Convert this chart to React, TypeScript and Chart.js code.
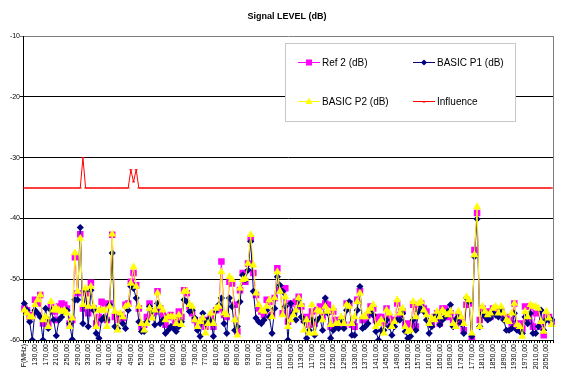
import React, { useEffect, useRef } from 'react';
import { Chart, registerables } from 'chart.js';

Chart.register(...registerables);

const TITLE = 'Signal LEVEL (dB)';
const FIRST_CATEGORY = 'F(MHz)';
const FREQ_MHZ = [
  100, 110, 120, 130, 140, 150, 160, 170, 180, 190,
  200, 210, 220, 230, 240, 250, 260, 270, 280, 290,
  300, 310, 320, 330, 340, 350, 360, 370, 380, 390,
  400, 410, 420, 430, 440, 450, 460, 470, 480, 490,
  500, 510, 520, 530, 540, 550, 560, 570, 580, 590,
  600, 610, 620, 630, 640, 650, 660, 670, 680, 690,
  700, 710, 720, 730, 740, 750, 760, 770, 780, 790,
  800, 810, 820, 830, 840, 850, 860, 870, 880, 890,
  900, 910, 920, 930, 940, 950, 960, 970, 980, 990,
  1000, 1010, 1020, 1030, 1040, 1050, 1060, 1070, 1080, 1090,
  1100, 1110, 1120, 1130, 1140, 1150, 1160, 1170, 1180, 1190,
  1200, 1210, 1220, 1230, 1240, 1250, 1260, 1270, 1280, 1290,
  1300, 1310, 1320, 1330, 1340, 1350, 1360, 1370, 1380, 1390,
  1400, 1410, 1420, 1430, 1440, 1450, 1460, 1470, 1480, 1490,
  1500, 1510, 1520, 1530, 1540, 1550, 1560, 1570, 1580, 1590,
  1600, 1610, 1620, 1630, 1640, 1650, 1660, 1670, 1680, 1690,
  1700, 1710, 1720, 1730, 1740, 1750, 1760, 1770, 1780, 1790,
  1800, 1810, 1820, 1830, 1840, 1850, 1860, 1870, 1880, 1890,
  1900, 1910, 1920, 1930, 1940, 1950, 1960, 1970, 1980, 1990,
  2000, 2010, 2020, 2030, 2040, 2050, 2060, 2070,
];
const CATEGORIES = [FIRST_CATEGORY, ...FREQ_MHZ.map((f) => `${f},00`)];

const Y_MIN = -60;
const Y_MAX = -10;
const Y_STEP = 10;

const REF2 = [
  -54.8, -55.1, -56.2, -55.9, -53.4, -54.0, -52.6, -57.3, -56.7, -57.3,
  -54.5, -55.3, -56.7, -54.5, -54.0, -54.2, -54.8, -57.3, -56.7, -46.4,
  -52.3, -42.6, -54.8, -52.3, -55.6, -50.6, -54.8, -57.3, -56.2, -53.7,
  -54.0, -56.7, -54.0, -42.7, -56.2, -56.7, -55.9, -56.4, -54.2, -54.0,
  -50.4, -49.0, -51.0, -54.8, -57.8, -57.5, -56.2, -54.0, -55.6, -55.3,
  -52.0, -54.8, -55.9, -57.5, -56.2, -55.9, -57.8, -56.7, -55.3, -56.2,
  -51.8, -52.3, -54.5, -55.6, -56.7, -57.5, -57.3, -56.7, -57.8, -56.7,
  -56.2, -57.8, -55.1, -54.8, -47.1, -55.9, -56.2, -50.4, -50.7, -54.2,
  -58.6, -51.8, -49.0, -50.4, -47.4, -43.3, -49.0, -52.6, -54.8, -55.3,
  -55.9, -53.4, -53.7, -55.9, -53.1, -48.2, -51.8, -55.6, -51.5, -57.0,
  -54.0, -55.6, -53.7, -52.9, -54.5, -56.7, -56.2, -57.5, -55.3, -57.3,
  -55.1, -54.5, -56.2, -54.0, -54.2, -57.8, -55.3, -56.7, -57.5, -56.7,
  -57.5, -54.0, -54.0, -57.5, -57.8, -53.4, -52.0, -56.7, -56.7, -55.9,
  -54.5, -54.8, -56.7, -56.2, -56.2, -57.3, -54.8, -56.2, -57.3, -56.7,
  -54.0, -55.9, -55.3, -57.5, -57.3, -57.8, -54.2, -57.8, -54.8, -54.0,
  -54.8, -55.3, -57.0, -57.5, -56.2, -55.6, -57.3, -54.8, -54.8, -56.2,
  -55.6, -56.7, -57.3, -55.9, -56.7, -58.4, -54.2, -54.0, -60.0, -45.2,
  -39.1, -56.7, -54.8, -55.6, -55.3, -56.2, -54.8, -55.3, -55.6, -55.3,
  -56.2, -56.2, -56.7, -57.3, -54.0, -57.8, -57.3, -58.1, -54.5, -56.7,
  -54.5, -57.8, -55.6, -55.3, -57.8, -59.2, -56.2, -56.2, -57.0,
];

const BASIC_P1 = [
  -54.0, -55.1, -57.0, -60.0, -55.1, -55.6, -56.2, -60.0, -54.8, -58.1,
  -55.1, -56.7, -59.3, -56.7, -56.2, -55.3, -55.1, -57.3, -59.9, -53.4,
  -53.4, -41.5, -57.3, -51.8, -57.8, -51.8, -55.1, -58.9, -59.7, -56.7,
  -56.2, -56.7, -54.2, -45.7, -57.8, -58.1, -55.9, -57.3, -58.1, -55.1,
  -51.2, -51.5, -53.1, -57.0, -58.6, -58.6, -57.0, -54.5, -55.3, -57.5,
  -54.0, -57.3, -56.7, -58.9, -58.4, -57.8, -58.1, -58.6, -57.8, -57.0,
  -53.4, -53.7, -55.3, -55.1, -56.4, -58.4, -59.4, -55.6, -57.3, -56.7,
  -56.7, -59.4, -55.1, -54.2, -53.1, -57.3, -58.9, -53.1, -54.5, -58.4,
  -57.8, -53.7, -49.3, -50.1, -48.5, -43.8, -52.0, -56.4, -57.0, -57.3,
  -56.7, -55.1, -56.2, -58.9, -54.8, -49.6, -51.0, -52.0, -54.5, -60.0,
  -54.0, -55.6, -56.7, -53.4, -56.2, -57.0, -59.7, -58.4, -56.7, -59.2,
  -56.7, -56.4, -58.4, -53.1, -55.6, -59.7, -58.4, -57.8, -58.1, -56.7,
  -58.1, -55.1, -53.7, -59.2, -59.2, -55.1, -51.2, -58.1, -57.8, -57.3,
  -55.1, -55.9, -58.6, -60.0, -58.4, -58.4, -56.7, -57.8, -59.2, -57.8,
  -56.7, -56.7, -55.6, -58.6, -59.7, -59.4, -56.7, -58.4, -55.3, -54.5,
  -55.3, -56.7, -58.9, -57.8, -56.2, -55.9, -57.5, -56.7, -56.2, -55.3,
  -54.2, -57.8, -56.7, -56.2, -57.3, -58.9, -53.1, -53.7, -59.4, -46.3,
  -40.1, -57.8, -55.6, -56.2, -56.7, -56.4, -55.6, -55.9, -56.2, -55.1,
  -56.7, -58.4, -58.4, -58.1, -55.6, -58.4, -58.6, -58.9, -56.2, -57.3,
  -55.6, -58.9, -58.9, -57.8, -55.1, -58.4, -56.7, -56.7, -56.7,
];

const BASIC_P2 = [
  -55.1, -55.6, -56.2, -56.2, -54.2, -53.4, -52.6, -56.7, -56.2, -57.8,
  -53.7, -55.1, -54.8, -55.1, -55.3, -55.1, -55.6, -57.8, -56.4, -45.7,
  -52.0, -43.3, -54.2, -51.5, -54.5, -51.2, -54.5, -57.8, -55.1, -55.1,
  -55.1, -57.8, -54.5, -42.6, -55.3, -58.4, -55.6, -56.2, -54.5, -54.2,
  -50.7, -48.0, -51.2, -54.5, -57.3, -58.4, -57.3, -54.8, -56.4, -55.1,
  -52.3, -54.5, -55.1, -56.7, -56.2, -56.2, -56.2, -57.3, -55.9, -57.5,
  -52.0, -52.0, -54.2, -54.5, -56.7, -57.8, -57.0, -56.4, -58.9, -57.3,
  -55.6, -57.3, -54.8, -54.5, -48.8, -55.6, -55.9, -49.6, -50.1, -56.7,
  -59.2, -51.5, -50.1, -49.9, -47.4, -42.7, -47.7, -52.3, -54.2, -55.1,
  -55.3, -54.5, -53.4, -56.2, -53.1, -48.8, -52.0, -55.9, -52.9, -57.8,
  -56.7, -55.9, -55.1, -53.1, -54.2, -58.4, -56.7, -58.9, -54.2, -58.9,
  -55.1, -55.3, -56.7, -54.5, -55.3, -57.5, -54.8, -57.3, -57.3, -56.2,
  -57.3, -54.2, -54.5, -57.3, -56.2, -53.7, -52.3, -56.2, -56.2, -55.3,
  -54.8, -54.2, -57.8, -57.3, -56.7, -58.9, -55.1, -55.6, -57.8, -57.0,
  -53.4, -55.6, -54.8, -57.8, -58.6, -58.4, -53.7, -56.2, -54.0, -53.7,
  -55.1, -55.9, -57.3, -56.4, -56.7, -55.3, -56.2, -55.1, -55.6, -55.9,
  -55.3, -57.3, -57.8, -55.3, -56.2, -57.3, -52.9, -53.4, -58.9, -46.0,
  -38.1, -57.8, -54.5, -55.3, -55.9, -55.6, -54.8, -54.5, -55.6, -54.5,
  -55.6, -56.7, -57.0, -55.6, -54.0, -57.5, -57.8, -59.4, -55.3, -56.2,
  -54.2, -54.5, -54.5, -54.8, -57.0, -58.6, -55.3, -56.4, -57.5,
];

const INFLUENCE = [
  -35, -35, -35, -35, -35, -35, -35, -35, -35, -35,
  -35, -35, -35, -35, -35, -35, -35, -35, -35, -35,
  -35, -35, -30, -35, -35, -35, -35, -35, -35, -35,
  -35, -35, -35, -35, -35, -35, -35, -35, -35, -35,
  -32, -34, -32, -35, -35, -35, -35, -35, -35, -35,
  -35, -35, -35, -35, -35, -35, -35, -35, -35, -35,
  -35, -35, -35, -35, -35, -35, -35, -35, -35, -35,
  -35, -35, -35, -35, -35, -35, -35, -35, -35, -35,
  -35, -35, -35, -35, -35, -35, -35, -35, -35, -35,
  -35, -35, -35, -35, -35, -35, -35, -35, -35, -35,
  -35, -35, -35, -35, -35, -35, -35, -35, -35, -35,
  -35, -35, -35, -35, -35, -35, -35, -35, -35, -35,
  -35, -35, -35, -35, -35, -35, -35, -35, -35, -35,
  -35, -35, -35, -35, -35, -35, -35, -35, -35, -35,
  -35, -35, -35, -35, -35, -35, -35, -35, -35, -35,
  -35, -35, -35, -35, -35, -35, -35, -35, -35, -35,
  -35, -35, -35, -35, -35, -35, -35, -35, -35, -35,
  -35, -35, -35, -35, -35, -35, -35, -35, -35, -35,
  -35, -35, -35, -35, -35, -35, -35, -35, -35, -35,
  -35, -35, -35, -35, -35, -35, -35, -35, -35,
];

const SERIES_NAMES = ['Ref 2 (dB)', 'BASIC P1 (dB)', 'BASIC P2 (dB)', 'Influence'];
const MAGENTA = '#FF00FF';
const NAVY = '#000080';
const YELLOW = '#FFFF00';
const RED = '#FF0000';
const FONT = '"Liberation Sans", Arial, sans-serif';

function drawMarker(ctx: CanvasRenderingContext2D, kind: string, x: number, y: number, color: string) {
  ctx.fillStyle = color;
  ctx.strokeStyle = color;
  ctx.beginPath();
  if (kind === 'rect') {
    ctx.rect(x - 3, y - 3, 6, 6);
    ctx.fill();
  } else if (kind === 'diamond') {
    ctx.moveTo(x, y - 3);
    ctx.lineTo(x + 3, y);
    ctx.lineTo(x, y + 3);
    ctx.lineTo(x - 3, y);
    ctx.closePath();
    ctx.fill();
  } else if (kind === 'triangle') {
    ctx.moveTo(x, y - 4);
    ctx.lineTo(x + 3.5, y + 2.5);
    ctx.lineTo(x - 3.5, y + 2.5);
    ctx.closePath();
    ctx.fill();
  } else {
    ctx.lineWidth = 1;
    ctx.moveTo(x - 1.5, y + 0.5);
    ctx.lineTo(x + 1.5, y + 0.5);
    ctx.stroke();
  }
}

const decorPlugin = {
  id: 'decor',
  afterDraw(chart: any) {
    const { ctx, chartArea: a } = chart;
    ctx.save();
    ctx.strokeStyle = '#808080';
    ctx.lineWidth = 1;
    ctx.beginPath();
    ctx.moveTo(a.right + 0.5, a.top);
    ctx.lineTo(a.right + 0.5, a.bottom);
    ctx.stroke();

    ctx.fillStyle = '#000';
    ctx.font = `bold 9px ${FONT}`;
    ctx.textAlign = 'center';
    ctx.textBaseline = 'middle';
    ctx.fillText(TITLE, (a.left + a.right) / 2 - 1, 17);

    const bx = 285, by = 43, bw = 230, bh = 78;
    ctx.fillStyle = '#FFFFFF';
    ctx.fillRect(bx, by, bw, bh);
    ctx.strokeStyle = '#C8C8C8';
    ctx.strokeRect(bx + 0.5, by + 0.5, bw, bh);

    const entries = [
      { name: SERIES_NAMES[0], color: MAGENTA, kind: 'rect', x: 298, y: 62 },
      { name: SERIES_NAMES[1], color: NAVY, kind: 'diamond', x: 413, y: 62 },
      { name: SERIES_NAMES[2], color: YELLOW, kind: 'triangle', x: 298, y: 101 },
      { name: SERIES_NAMES[3], color: RED, kind: 'line', x: 413, y: 101 },
    ];
    ctx.font = `10px ${FONT}`;
    ctx.textAlign = 'left';
    ctx.textBaseline = 'middle';
    for (const e of entries) {
      ctx.strokeStyle = e.color;
      ctx.lineWidth = 1;
      ctx.beginPath();
      ctx.moveTo(e.x, e.y + 0.5);
      ctx.lineTo(e.x + 22, e.y + 0.5);
      ctx.stroke();
      drawMarker(ctx, e.kind, e.x + 11, e.y + 0.5, e.color);
      ctx.fillStyle = '#000';
      ctx.fillText(e.name, e.x + 24, e.y + 1);
    }
    ctx.restore();
  },
};

export default function App() {
  const canvasRef = useRef<HTMLCanvasElement | null>(null);

  useEffect(() => {
    document.body.style.margin = '0';
    const canvas = canvasRef.current;
    if (!canvas) return;
    const chart = new Chart(canvas, {
      type: 'line',
      data: {
        labels: CATEGORIES,
        datasets: [
          {
            label: SERIES_NAMES[0],
            data: REF2,
            borderColor: MAGENTA,
            backgroundColor: MAGENTA,
            borderWidth: 1,
            pointStyle: 'rect',
            pointRadius: 4.6,
            pointBorderWidth: 0,
            order: 4,
          },
          {
            label: SERIES_NAMES[1],
            data: BASIC_P1,
            borderColor: NAVY,
            backgroundColor: NAVY,
            borderWidth: 1,
            pointStyle: 'rectRot',
            pointRadius: 3.6,
            pointBorderWidth: 0,
            order: 3,
          },
          {
            label: SERIES_NAMES[2],
            data: BASIC_P2,
            borderColor: YELLOW,
            backgroundColor: YELLOW,
            borderWidth: 1,
            pointStyle: 'triangle',
            pointRadius: 4.6,
            pointBorderWidth: 0,
            order: 2,
          },
          {
            label: SERIES_NAMES[3],
            data: INFLUENCE,
            borderColor: RED,
            backgroundColor: RED,
            borderWidth: 1,
            pointStyle: 'line',
            pointRadius: 1.5,
            pointBorderWidth: 1,
            order: 1,
          },
        ],
      },
      options: {
        responsive: false,
        animation: false,
        events: [],
        layout: { padding: { left: 0, top: 36, right: 11, bottom: 0 } },
        elements: { line: { tension: 0 } },
        plugins: {
          legend: { display: false },
          title: { display: false },
          tooltip: { enabled: false },
        },
        scales: {
          x: {
            type: 'category',
            offset: true,
            afterFit: (scale: any) => {
              scale.height = 49;
            },
            grid: {
              offset: true,
              drawOnChartArea: false,
              drawTicks: true,
              tickLength: 3,
              color: '#000',
            },
            border: { display: true, color: '#000', width: 1 },
            ticks: {
              autoSkip: false,
              maxRotation: 90,
              minRotation: 90,
              padding: 1,
              color: '#000',
              font: { family: FONT, size: 7 },
              callback: (_v: any, i: number) => (i % 4 === 0 ? CATEGORIES[i] : ''),
            },
          },
          y: {
            min: Y_MIN,
            max: Y_MAX,
            afterFit: (scale: any) => {
              scale.width = 23;
            },
            grid: {
              color: (c: any) => (c.tick && c.tick.value === Y_MAX ? '#808080' : '#000'),
              lineWidth: 1,
              drawTicks: true,
              tickLength: 3,
            },
            border: { display: true, color: '#000', width: 1 },
            ticks: {
              stepSize: Y_STEP,
              padding: 0,
              color: '#000',
              font: { family: FONT, size: 7 },
            },
          },
        },
      },
      plugins: [decorPlugin],
    });
    return () => chart.destroy();
  }, []);

  return (
    <div style={{ width: 564, height: 389, background: '#fff' }}>
      <canvas ref={canvasRef} width={564} height={389} style={{ display: 'block' }} />
    </div>
  );
}
